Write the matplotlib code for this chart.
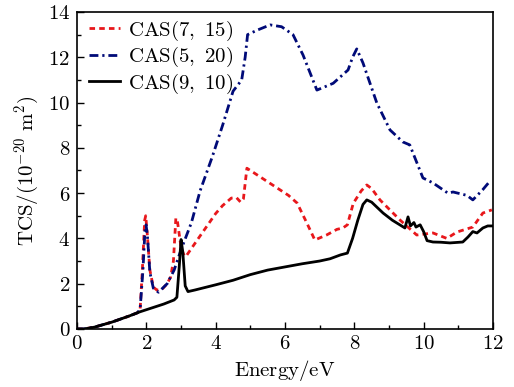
import numpy as np
import matplotlib
matplotlib.use("Agg")
import matplotlib.pyplot as plt
from matplotlib.ticker import MultipleLocator, FuncFormatter

plt.rcParams["mathtext.fontset"] = "cm"
plt.rcParams["font.family"] = "serif"

# CAS(9, 10) - solid black
e_910 = [0.0, 0.2, 0.5, 1.0, 1.5, 1.8, 2.0, 2.5, 2.8, 2.88, 2.95, 3.0, 3.05, 3.12,
         3.2, 3.4, 4.0, 4.5, 5.0, 5.5, 6.0, 6.5, 7.0, 7.3, 7.6, 7.8, 7.95, 8.1,
         8.25, 8.36, 8.5, 8.83, 9.1, 9.46, 9.55, 9.62, 9.72, 9.78, 9.9, 10.0,
         10.1, 10.27, 10.5, 10.76, 11.13, 11.28, 11.42, 11.54, 11.71, 11.85, 11.97]
tcs_910 = [0.0, 0.0, 0.08, 0.3, 0.57, 0.75, 0.85, 1.1, 1.28, 1.4, 2.8, 3.95, 3.4, 1.9,
           1.65, 1.72, 1.95, 2.15, 2.4, 2.6, 2.74, 2.88, 3.0, 3.1, 3.27, 3.35, 4.0, 4.8,
           5.5, 5.7, 5.6, 5.12, 4.8, 4.46, 4.95, 4.55, 4.7, 4.5, 4.6, 4.3,
           3.9, 3.84, 3.83, 3.8, 3.84, 4.06, 4.3, 4.24, 4.46, 4.55, 4.55]

# CAS(7, 15) - red dashed
e_715 = [0.0, 0.2, 0.5, 1.0, 1.5, 1.75, 1.82, 1.88, 1.95, 1.98, 2.02, 2.1, 2.2,
         2.3, 2.45, 2.6, 2.7, 2.78, 2.85, 2.9, 3.0, 3.1, 3.17, 3.5, 3.75, 4.0,
         4.2, 4.45, 4.6, 4.72, 4.8, 4.9, 5.2, 5.77, 6.1, 6.35, 6.63, 6.86, 7.2,
         7.5, 7.67, 7.8, 7.97, 8.2, 8.36, 8.5, 8.74, 9.0, 9.32, 9.8, 10.27, 10.67,
         10.96, 11.42, 11.71, 11.97]
tcs_715 = [0.0, 0.0, 0.08, 0.3, 0.57, 0.72, 0.9, 2.5, 4.8, 5.0, 4.3, 2.6, 1.85,
           1.72, 1.75, 2.0, 2.3, 3.0, 4.9, 4.7, 3.6, 3.2, 3.27, 4.0, 4.55, 5.1,
           5.45, 5.78, 5.8, 5.6, 5.75, 7.1, 6.8, 6.23, 5.9, 5.56, 4.68, 3.93, 4.15,
           4.4, 4.46, 4.6, 5.55, 6.1, 6.36, 6.2, 5.7, 5.3, 4.81, 4.15, 4.24, 4.0,
           4.28, 4.5, 5.12, 5.26]

# CAS(5, 20) - navy dash-dot
e_520 = [0.0, 0.2, 0.5, 1.0, 1.5, 1.75, 1.82, 1.9, 1.96, 1.99, 2.03, 2.1, 2.2,
         2.35, 2.6, 2.8, 3.0, 3.3, 3.55, 3.9, 4.2, 4.5, 4.75, 4.85, 4.92, 5.2,
         5.57, 5.9, 6.23, 6.52, 6.92, 7.39, 7.82, 7.95, 8.07, 8.25, 8.65, 9.03,
         9.4, 9.6, 9.98, 10.27, 10.7, 10.85, 11.25, 11.42, 11.7, 11.92]
tcs_520 = [0.0, 0.0, 0.08, 0.3, 0.57, 0.72, 0.9, 2.6, 4.4, 4.6, 4.1, 2.5, 1.8,
           1.62, 2.0, 2.6, 3.5, 4.7, 6.1, 7.6, 9.0, 10.5, 11.0, 12.0, 13.0, 13.2,
           13.43, 13.35, 13.0, 12.1, 10.55, 10.85, 11.44, 12.0, 12.37, 11.75, 9.98, 8.79,
           8.26, 8.13, 6.67, 6.45, 6.0, 6.05, 5.9, 5.7, 6.14, 6.54]


def mfmt(v, pos):
    return r"$\mathrm{%d}$" % v


fs = 15

fig = plt.figure(figsize=(5.14, 3.87), dpi=100)
ax = fig.add_axes([0.150, 0.150, 0.809, 0.819])

ax.plot(e_715, tcs_715, color="#e8171b", linestyle=(0, (2.0, 1.5)), lw=2.0,
        label=r"$\mathrm{CAS(7,\ 15)}$")
ax.plot(e_520, tcs_520, color="#000a78", linestyle=(0, (3.2, 1.4, 0.8, 1.4)), lw=2.0,
        label=r"$\mathrm{CAS(5,\ 20)}$")
ax.plot(e_910, tcs_910, color="black", linestyle="-", lw=2.0,
        label=r"$\mathrm{CAS(9,\ 10)}$")

ax.set_xlim(0, 12)
ax.set_ylim(0, 14)
ax.xaxis.set_major_locator(MultipleLocator(2))
ax.xaxis.set_minor_locator(MultipleLocator(1))
ax.yaxis.set_major_locator(MultipleLocator(2))
ax.yaxis.set_minor_locator(MultipleLocator(1))
ax.xaxis.set_major_formatter(FuncFormatter(mfmt))
ax.yaxis.set_major_formatter(FuncFormatter(mfmt))
ax.tick_params(which="both", direction="in", labelsize=fs, top=False, right=False)
ax.tick_params(which="major", length=5, width=1)
ax.tick_params(which="minor", length=3, width=1)
ax.tick_params(axis="y", pad=5)
for s in ax.spines.values():
    s.set_linewidth(1.2)

ax.set_xlabel(r"$\mathrm{Energy/eV}$", fontsize=fs, labelpad=4)
ax.set_ylabel(r"$\mathrm{TCS/(10^{-20}\ m^2)}$", fontsize=fs, labelpad=5)

ax.legend(loc="upper left", frameon=False, fontsize=fs, handlelength=1.5,
          handletextpad=0.4, labelspacing=0.12, borderaxespad=0.15,
          bbox_to_anchor=(0.0, 1.016))

fig.savefig("out.png", dpi=100)
